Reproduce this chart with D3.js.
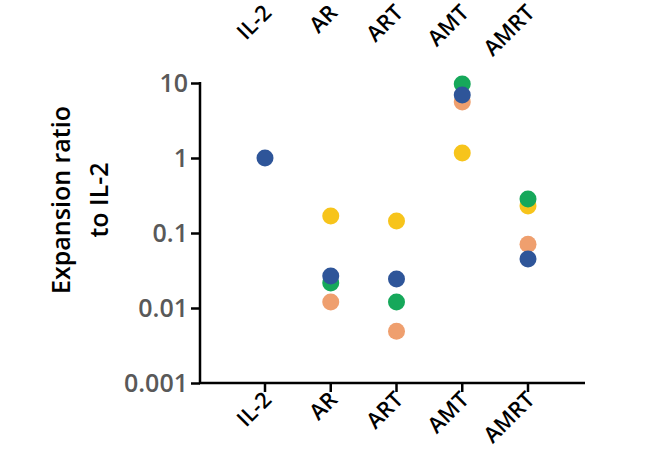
<!DOCTYPE html><html><head><meta charset="utf-8">
<script src="https://cdn.jsdelivr.net/npm/d3@7"></script>
<style>body{margin:0;background:#fff}text{font-family:"Open Sans","Noto Sans",sans-serif;font-weight:600}</style></head><body>
<svg id="c" width="661" height="475"></svg>
<script>
const categories=["IL-2","AR","ART","AMT","AMRT"];
const yellow=[null,0.169,0.145,1.17,0.229];
const orange=[null,0.012,0.0049,5.6,0.071];
const green=[null,0.0215,0.012,9.7,0.284];
const blue=[1,0.0267,0.0243,6.9,0.045];
const yTicks=[10,1,0.1,0.01,0.001];
const tickLabels=["10","1","0.1","0.01","0.001"];
const series=[{v:yellow,c:"#F7C41B"},{v:orange,c:"#EF9F6E"},{v:green,c:"#16A85A"},{v:blue,c:"#2E5599"}];
const svg=d3.select("#c");
const x=d3.scalePoint().domain(categories).range([265,528]);
const y=d3.scaleLog().domain([0.001,10]).range([383,83]);
const ya=svg.append("g").attr("transform","translate(200,0)").call(d3.axisLeft(y).tickValues(yTicks).tickFormat((d,i)=>tickLabels[i]).tickSize(9).tickSizeOuter(0));
ya.select(".domain").attr("stroke","#000").attr("stroke-width",2.5).attr("d","M0,82V383");
ya.selectAll(".tick line").attr("stroke","#000").attr("stroke-width",2.5);
ya.selectAll(".tick text").attr("font-size",25).attr("fill","#595959").attr("x",-12).attr("font-family","Open Sans").attr("font-weight",600);
svg.append("line").attr("x1",199).attr("x2",585).attr("y1",383).attr("y2",383).attr("stroke","#000").attr("stroke-width",2.5);
categories.forEach(c=>{
 svg.append("line").attr("x1",x(c)).attr("x2",x(c)).attr("y1",383).attr("y2",392).attr("stroke","#000").attr("stroke-width",2.5);
 svg.append("text").attr("transform",`translate(${x(c)+8},${401}) rotate(-45)`).attr("text-anchor","end").attr("font-size",22).attr("fill","#000").text(c);
 svg.append("text").attr("transform",`translate(${x(c)+8},${14}) rotate(-45)`).attr("text-anchor","end").attr("font-size",22).attr("fill","#000").text(c);
});
series.forEach(s=>{
 svg.append("g").selectAll("circle").data(s.v.map((v,i)=>({v,c:categories[i]})).filter(d=>d.v!=null)).join("circle")
 .attr("cx",d=>x(d.c)).attr("cy",d=>y(d.v)).attr("r",8.5).attr("fill",s.c);
});
const yl=svg.append("text").attr("transform","translate(0,200) rotate(-90)").attr("text-anchor","middle").attr("font-size",25).attr("fill","#000");
yl.append("tspan").attr("x",0).attr("y",70).text("Expansion ratio");
yl.append("tspan").attr("x",0).attr("y",108).text("to IL-2");
</script></body></html>
